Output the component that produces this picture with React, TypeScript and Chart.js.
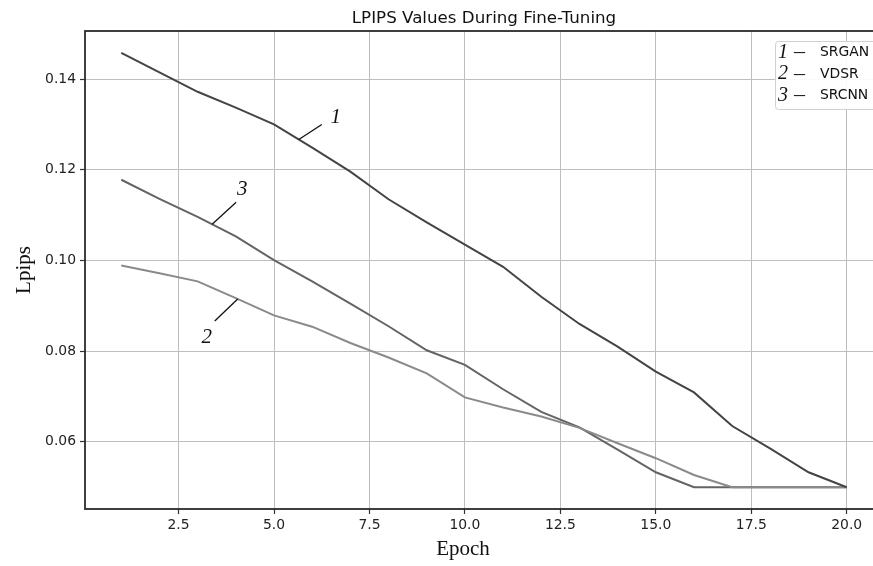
import React, { useEffect, useRef } from "react";
import { Chart, registerables } from "chart.js";

Chart.register(...registerables);

const epochs = [1, 2, 3, 4, 5, 6, 7, 8, 9, 10, 11, 12, 13, 14, 15, 16, 17, 18, 19, 20];
const srgan = [0.1458, 0.1415, 0.1372, 0.1337, 0.13, 0.1249, 0.1196, 0.1135, 0.1084, 0.1035, 0.0986, 0.092, 0.086, 0.081, 0.0755, 0.0709, 0.0635, 0.0585, 0.0533, 0.05];
const vdsr = [0.0989, 0.0972, 0.0954, 0.0917, 0.0879, 0.0854, 0.0818, 0.0786, 0.0751, 0.0698, 0.0676, 0.0656, 0.0631, 0.0597, 0.0564, 0.0527, 0.05, 0.05, 0.05, 0.05];
const srcnn = [0.1178, 0.1136, 0.1096, 0.1053, 0.1001, 0.0954, 0.0905, 0.0855, 0.0802, 0.077, 0.0716, 0.0666, 0.0632, 0.0583, 0.0533, 0.05, 0.05, 0.05, 0.05, 0.05];

const seriesNames = ["SRGAN", "VDSR", "SRCNN"];
const seriesNumbers = ["1", "2", "3"];
const xTicks = [2.5, 5, 7.5, 10, 12.5, 15, 17.5, 20];
const yTicks = [0.06, 0.08, 0.1, 0.12, 0.14];

const titleText = "LPIPS Values During Fine-Tuning";
const xTitle = "Epoch";
const yTitle = "Lpips";

// callouts: series index, epoch where the leader touches the curve
const calloutSeries = [0, 2, 1];
const calloutAt = [5.65, 3.38, 4.05];
// leader / label geometry (pixels)
const calloutGeom = [
  { dx: 23, dy: -15, tx: 14, ty: -7 },
  { dx: 24, dy: -22, tx: 6, ty: -13 },
  { dx: -23, dy: 22, tx: -8, ty: 17 },
];

const colors = ["#444444", "#8a8a8a", "#646464"];
const allSeries = [srgan, vdsr, srcnn];

const W = 900;
const H = 566;

function interp(arr: number[], x: number) {
  const i = Math.floor(x) - 1;
  const f = x - Math.floor(x);
  return arr[i] + (arr[i + 1] - arr[i]) * f;
}

const overlay = {
  id: "overlay",
  afterDraw(chart: any) {
    const { ctx, chartArea, scales } = chart;
    const xs = scales.x;
    const ys = scales.y;
    ctx.save();
    // frame
    ctx.strokeStyle = "#2a2a2a";
    ctx.lineWidth = 1.8;
    ctx.strokeRect(chartArea.left, chartArea.top, chartArea.right - chartArea.left, chartArea.bottom - chartArea.top);

    // title
    ctx.fillStyle = "#111";
    ctx.font = '16.7px "DejaVu Sans"';
    ctx.textAlign = "center";
    ctx.textBaseline = "alphabetic";
    ctx.fillText(titleText, (chartArea.left + chartArea.right) / 2, 23);

    // axis titles
    ctx.fillStyle = "#111";
    ctx.font = '21px "Liberation Serif"';
    ctx.textBaseline = "middle";
    ctx.fillText(xTitle, 463, 549);
    ctx.save();
    ctx.translate(24, (chartArea.top + chartArea.bottom) / 2);
    ctx.rotate(-Math.PI / 2);
    ctx.fillText(yTitle, 0, 0);
    ctx.restore();

    // callouts
    for (let k = 0; k < calloutSeries.length; k++) {
      const s = calloutSeries[k];
      const g = calloutGeom[k];
      const px = xs.getPixelForValue(calloutAt[k]);
      const py = ys.getPixelForValue(interp(allSeries[s], calloutAt[k]));
      ctx.strokeStyle = "#111";
      ctx.lineWidth = 1.3;
      ctx.beginPath();
      ctx.moveTo(px, py);
      ctx.lineTo(px + g.dx, py + g.dy);
      ctx.stroke();
      ctx.fillStyle = "#111";
      ctx.font = 'italic 21px "Liberation Serif"';
      ctx.textAlign = "center";
      ctx.textBaseline = "middle";
      ctx.fillText(seriesNumbers[s], px + g.dx + g.tx, py + g.dy + g.ty);
    }

    // legend
    const lx = 775;
    const ly = 41;
    const lw = 105;
    const lh = 68;
    ctx.fillStyle = "rgba(255,255,255,0.9)";
    ctx.strokeStyle = "#d0d0d0";
    ctx.lineWidth = 1;
    ctx.beginPath();
    (ctx as any).roundRect(lx + 0.5, ly + 0.5, lw, lh, 3);
    ctx.fill();
    ctx.stroke();
    for (let i = 0; i < seriesNames.length; i++) {
      const cy = 52.7 + i * 21.3;
      ctx.fillStyle = "#111";
      ctx.textAlign = "left";
      ctx.textBaseline = "middle";
      ctx.font = 'italic 20px "Liberation Serif"';
      ctx.fillText(seriesNumbers[i], 778, cy);
      ctx.font = '22px "Liberation Serif"';
      ctx.fillText("\u2013", 794, cy);
      ctx.font = '13.9px "DejaVu Sans"';
      ctx.fillText(seriesNames[i], 820, cy);
    }
    ctx.restore();
  },
};

export default function App() {
  const ref = useRef<HTMLCanvasElement | null>(null);
  useEffect(() => {
    if (!ref.current) return;
    const chart = new Chart(ref.current, {
      type: "line",
      data: {
        datasets: allSeries.map((arr, i) => ({
          label: seriesNames[i],
          data: epochs.map((e, j) => ({ x: e, y: arr[j] })),
          borderColor: colors[i],
          borderWidth: 2,
          pointRadius: 0,
          tension: 0,
          fill: false,
        })),
      },
      options: {
        responsive: false,
        animation: false,
        devicePixelRatio: 1,
        layout: { padding: { left: 0, top: 31, right: W - 883, bottom: 0 } },
        plugins: { legend: { display: false }, title: { display: false }, tooltip: { enabled: false } },
        scales: {
          x: {
            type: "linear",
            min: 0.05,
            max: 20.95,
            afterBuildTicks: (s: any) => {
              s.ticks = xTicks.map((v) => ({ value: v }));
            },
            afterFit: (s: any) => {
              s.height = 57;
            },
            ticks: {
              callback: (v: any) => Number(v).toFixed(1),
              font: { family: "DejaVu Sans", size: 13.9 },
              color: "#222",
              padding: 3,
              maxRotation: 0,
              autoSkip: false,
            },
            grid: { color: "#bdbdbd", lineWidth: 1, tickLength: 5, tickColor: "#333", tickWidth: 1.2 },
            border: { display: false },
          },
          y: {
            type: "linear",
            min: 0.0452,
            max: 0.1506,
            afterBuildTicks: (s: any) => {
              s.ticks = yTicks.map((v) => ({ value: v }));
            },
            afterFit: (s: any) => {
              s.width = 85;
            },
            ticks: {
              callback: (v: any) => Number(v).toFixed(2),
              font: { family: "DejaVu Sans", size: 13.9 },
              color: "#222",
              padding: 4,
              autoSkip: false,
            },
            grid: { color: "#bdbdbd", lineWidth: 1, tickLength: 5, tickColor: "#333", tickWidth: 1.2 },
            border: { display: false },
          },
        },
      },
      plugins: [overlay],
    } as any);
    return () => chart.destroy();
  }, []);
  return (
    <div style={{ position: "absolute", left: 0, top: 0, width: 873, height: 566, overflow: "hidden", background: "#fff" }}>
      <canvas ref={ref} width={W} height={H} style={{ display: "block" }} />
    </div>
  );
}
